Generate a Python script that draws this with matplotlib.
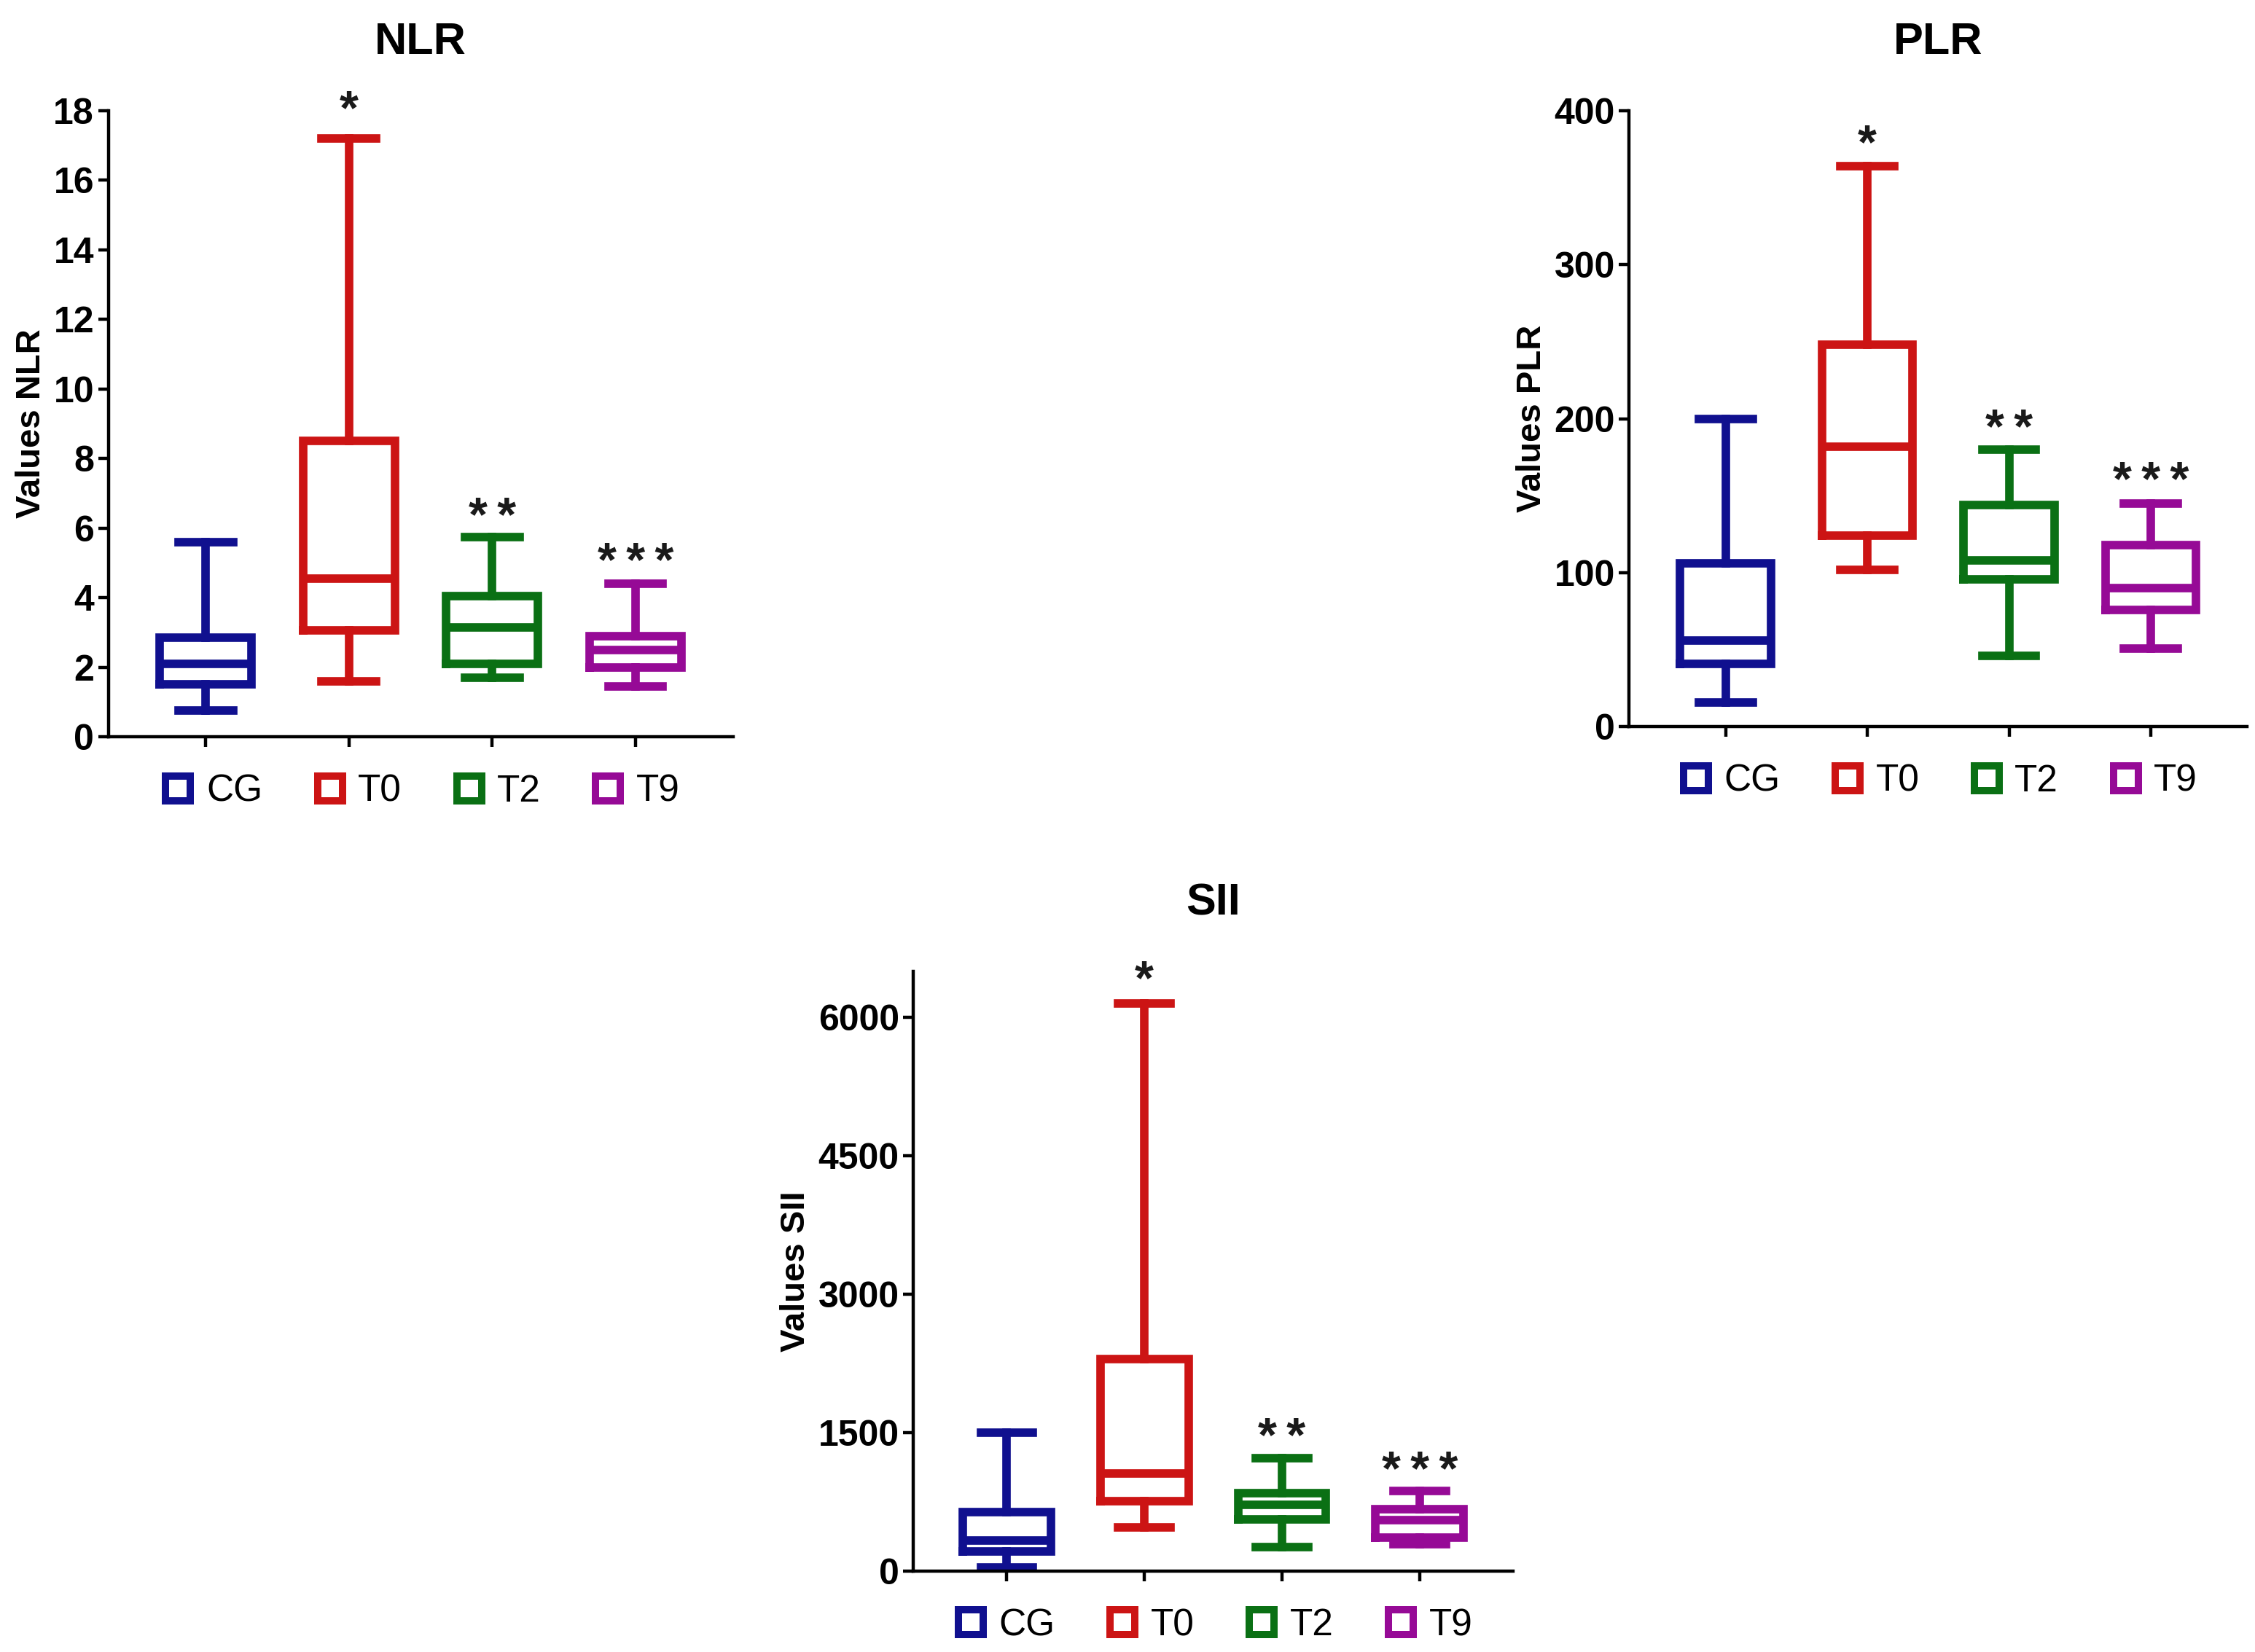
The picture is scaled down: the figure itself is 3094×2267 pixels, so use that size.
import numpy as np
import matplotlib.pyplot as plt
from matplotlib.lines import Line2D

plt.rcParams['font.family'] = ['Liberation Sans', 'DejaVu Sans']

groups = ['CG', 'T0', 'T2', 'T9']
colors = ['#10108f', '#cc1414', '#0a7014', '#960a96']
stars = ['', '*', '**', '***']

# NLR box values (whisker low, Q1, median, Q3, whisker high)
nlr_low = [0.75, 1.6, 1.7, 1.45]
nlr_q1 = [1.5, 3.05, 2.1, 2.0]
nlr_med = [2.1, 4.55, 3.15, 2.5]
nlr_q3 = [2.85, 8.5, 4.05, 2.9]
nlr_high = [5.6, 17.2, 5.75, 4.4]
nlr_star_y = [0, 18.4, 6.7, 5.4]

# PLR
plr_low = [16, 102, 46, 51]
plr_q1 = [41, 124, 96, 76]
plr_med = [56, 182, 108, 90]
plr_q3 = [106, 248, 144, 118]
plr_high = [200, 364, 180, 145]
plr_star_y = [0, 387, 202, 168]

# SII
sii_low = [40, 470, 260, 295]
sii_q1 = [210, 755, 560, 360]
sii_med = [330, 1060, 715, 550]
sii_q3 = [640, 2300, 845, 670]
sii_high = [1500, 6150, 1225, 870]
sii_star_y = [0, 6550, 1590, 1225]

LW = 4.2


def draw_panel(ax, title, low, q1, med, q3, high, star_y, ylim, yticks):
    stats = []
    for i in range(len(groups)):
        stats.append(dict(whislo=low[i], q1=q1[i], med=med[i], q3=q3[i],
                          whishi=high[i], fliers=[], label=groups[i]))
    pos = np.arange(1, len(groups) + 1)
    bp = ax.bxp(stats, positions=pos, widths=0.64, capwidths=0.38,
                showfliers=False, manage_ticks=False,
                boxprops=dict(linewidth=LW, solid_joinstyle='miter'),
                whiskerprops=dict(linewidth=LW),
                capprops=dict(linewidth=LW, solid_capstyle='projecting'),
                medianprops=dict(linewidth=LW))
    for i, c in enumerate(colors):
        bp['boxes'][i].set_color(c)
        bp['medians'][i].set_color(c)
        for k in (2 * i, 2 * i + 1):
            bp['whiskers'][k].set_color(c)
            bp['caps'][k].set_color(c)
        if stars[i]:
            # star glyph centred on star_y, thin gaps between stars
            ax.annotate('\u2009'.join(stars[i]), (pos[i], star_y[i]),
                        xytext=(0, -13.5), textcoords='offset points',
                        ha='center', va='baseline', fontsize=24,
                        fontweight='bold', color='#1a1a1a',
                        annotation_clip=False)

    ax.set_xlim(0.32, 4.68)
    ax.set_ylim(*ylim)
    ax.set_xticks(pos)
    ax.set_xticklabels([])
    ax.set_yticks(yticks)
    ax.set_ylabel('Values ' + title, fontsize=17, fontweight='bold', labelpad=3)
    ax.set_title(title, fontsize=22, fontweight='bold', pad=28)
    for s in ('top', 'right'):
        ax.spines[s].set_visible(False)
    for s in ('left', 'bottom'):
        ax.spines[s].set_linewidth(1.6)
    ax.tick_params(axis='both', width=1.6, length=5, labelsize=18, pad=2)
    for lab in ax.get_yticklabels():
        lab.set_fontweight('bold')

    handles = [Line2D([], [], marker='s', linestyle='none', markersize=12.5,
                      markerfacecolor='white', markeredgecolor=c,
                      markeredgewidth=3.6) for c in colors]
    ax.legend(handles, groups, loc='upper center', bbox_to_anchor=(0.5, -0.005),
              ncol=4, frameon=False, fontsize=18.5, handlelength=0.9,
              handletextpad=0.3, columnspacing=1.35)


fig = plt.figure(figsize=(15.47, 11.335), dpi=200)

ax1 = fig.add_axes([0.048, 0.554, 0.277, 0.379])
draw_panel(ax1, 'NLR', nlr_low, nlr_q1, nlr_med, nlr_q3, nlr_high, nlr_star_y,
           (0, 18), range(0, 19, 2))

ax2 = fig.add_axes([0.7225, 0.560, 0.274, 0.373])
draw_panel(ax2, 'PLR', plr_low, plr_q1, plr_med, plr_q3, plr_high, plr_star_y,
           (0, 400), range(0, 401, 100))

ax3 = fig.add_axes([0.405, 0.049, 0.266, 0.363])
draw_panel(ax3, 'SII', sii_low, sii_q1, sii_med, sii_q3, sii_high, sii_star_y,
           (0, 6500), range(0, 6001, 1500))

fig.savefig('out.png', dpi=200)
